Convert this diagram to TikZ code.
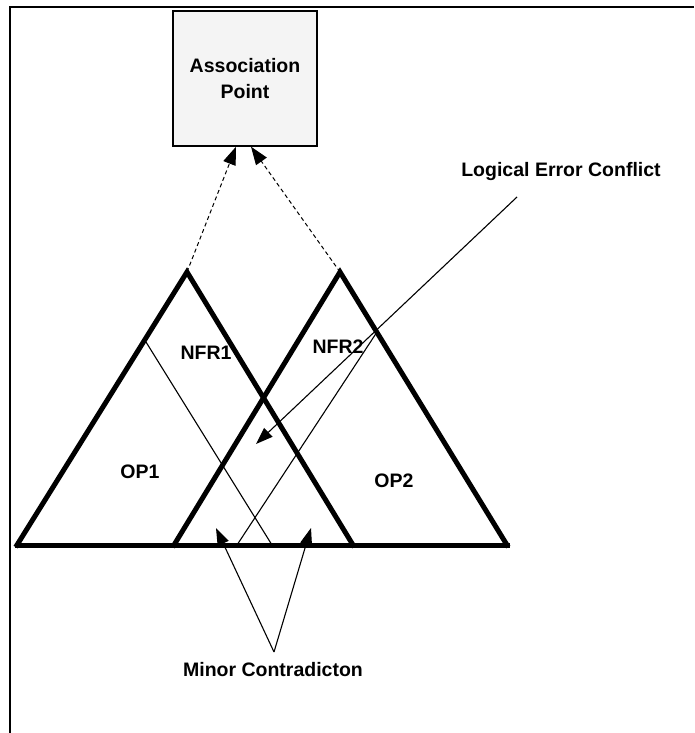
\documentclass[tikz,border=0pt]{standalone}
\usepackage{fontspec}
\setmainfont{Liberation Sans}
\usetikzlibrary{arrows.meta,calc}
\begin{document}
\begin{tikzpicture}[x=1pt,y=-1pt,
  lbl/.style={inner sep=0pt, font=\fontsize{19.5}{26}\selectfont\bfseries},
  tri/.style={line width=5pt, line join=miter, line cap=rect},
  thinline/.style={line width=1.1pt},
  tiparrow/.style={-{Triangle[length=17pt,width=12pt]}},
  dasharrow/.style={line width=1pt, dash pattern=on 4pt off 3pt, -{Triangle[length=18pt,width=13pt]}},
]
\useasboundingbox (0,0) rectangle (694,733);
% frame (cropped: top and left edges only)
\draw[line width=2pt] (694,7) -- (10,7) -- (10,733);

% association point box
\node[draw, line width=1.4pt, fill=gray!9, minimum width=144pt, minimum height=135pt,
      align=center, lbl] (ap) at (245,78.5) {Association\\Point};

% triangles
\coordinate (a1) at (187,272);
\coordinate (l1) at (17,545);
\coordinate (r1) at (353,545);
\coordinate (a2) at (340,272);
\coordinate (l2) at (174,545);
\coordinate (r2) at (507,545);
\draw[tri] (l1) -- (a1) -- (r1);
\draw[tri] (l2) -- (a2) -- (r2);
\draw[tri] (l1) -- (r2);

% dividers inside triangles
\coordinate (d1s) at (146,342);
\coordinate (d1e) at (272,545);
\coordinate (d2s) at (377,332);
\coordinate (d2e) at (237,545);
\draw[thinline] (d1s) -- (d1e);
\draw[thinline] (d2s) -- (d2e);

% dashed arrows to association point
\coordinate (ap1) at ($(ap.south)+(-9,0)$);
\coordinate (ap2) at ($(ap.south)+(6,0)$);
\draw[dasharrow] (a1) -- (ap1);
\draw[dasharrow] (a2) -- (ap2);

% labels in triangles
\node[lbl] (nfr1) at (206,353) {NFR1};
\node[lbl] (nfr2) at (338,347) {NFR2};
\node[lbl] (op1) at (140,472) {OP1};
\node[lbl] (op2) at (394,481) {OP2};

% logical error conflict
\node[lbl] (lec) at (561,172) {Logical Error Conflict};
\coordinate (lecs) at (517,197);
\coordinate (lect) at (256,444);
\draw[thinline, tiparrow] (lecs) -- (lect);

% minor contradiction
\node[lbl] (mc) at (273,670) {Minor Contradicton};
\coordinate (mcp) at (274,652);
\coordinate (mct1) at (216,528);
\coordinate (mct2) at (311,528);
\draw[thinline, tiparrow] (mcp) -- (mct1);
\draw[thinline, tiparrow] (mcp) -- (mct2);
\end{tikzpicture}
\end{document}
